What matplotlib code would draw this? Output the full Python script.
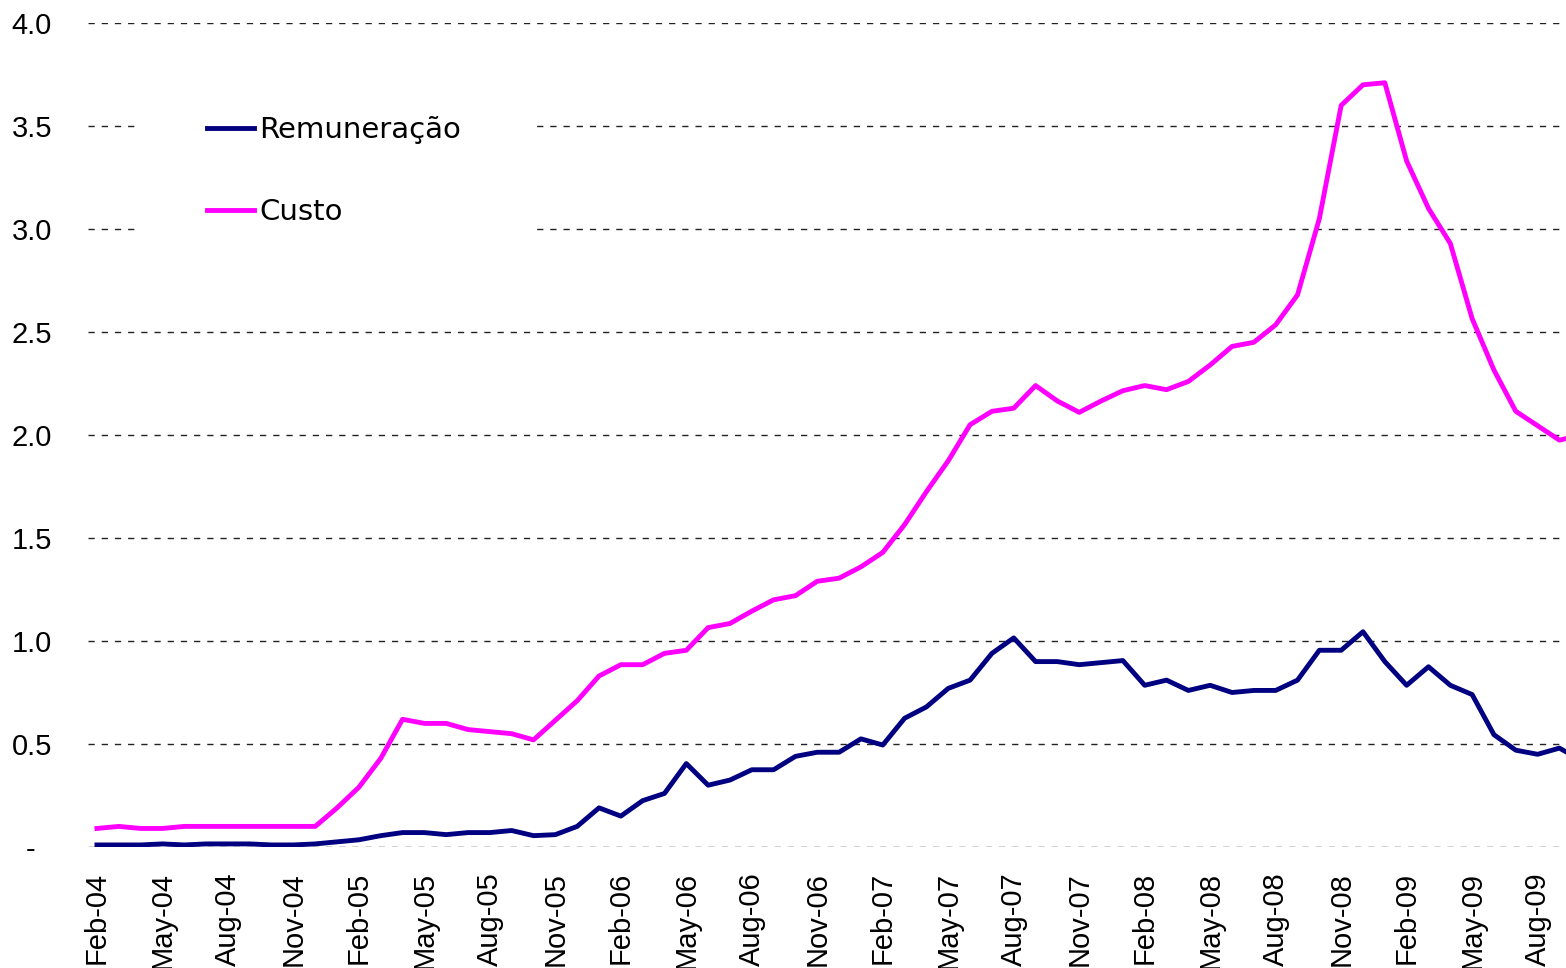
import matplotlib
matplotlib.use('Agg')
import matplotlib.pyplot as plt
from matplotlib.patches import Rectangle

# monthly series, Feb-04 .. Oct-09
remuneracao = [
    0.01, 0.01, 0.01, 0.015, 0.01, 0.015, 0.015, 0.015, 0.01, 0.01,
    0.015, 0.025, 0.035, 0.055, 0.07, 0.07, 0.06, 0.07, 0.07, 0.08,
    0.055, 0.06, 0.10, 0.19, 0.15, 0.225, 0.26, 0.405, 0.30, 0.325,
    0.375, 0.375, 0.44, 0.46, 0.46, 0.525, 0.495, 0.625, 0.68, 0.77,
    0.81, 0.94, 1.015, 0.90, 0.90, 0.885, 0.895, 0.905, 0.785, 0.81,
    0.76, 0.785, 0.75, 0.76, 0.76, 0.81, 0.955, 0.955, 1.045, 0.90,
    0.785, 0.875, 0.785, 0.74, 0.545, 0.47, 0.45, 0.48, 0.42,
]
custo = [
    0.09, 0.10, 0.09, 0.09, 0.10, 0.10, 0.10, 0.10, 0.10, 0.10,
    0.10, 0.19, 0.29, 0.43, 0.62, 0.60, 0.60, 0.57, 0.56, 0.55,
    0.52, 0.615, 0.71, 0.83, 0.885, 0.885, 0.94, 0.955, 1.065, 1.085,
    1.145, 1.20, 1.22, 1.29, 1.305, 1.36, 1.43, 1.565, 1.725, 1.875,
    2.05, 2.115, 2.13, 2.24, 2.165, 2.11, 2.165, 2.215, 2.24, 2.22,
    2.26, 2.34, 2.43, 2.45, 2.535, 2.68, 3.05, 3.60, 3.70, 3.71,
    3.33, 3.10, 2.93, 2.565, 2.315, 2.115, 2.045, 1.975, 2.00,
]
tick_labels = [
    'Feb-04', 'May-04', 'Aug-04', 'Nov-04', 'Feb-05', 'May-05', 'Aug-05',
    'Nov-05', 'Feb-06', 'May-06', 'Aug-06', 'Nov-06', 'Feb-07', 'May-07',
    'Aug-07', 'Nov-07', 'Feb-08', 'May-08', 'Aug-08', 'Nov-08', 'Feb-09',
    'May-09', 'Aug-09',
]
y_ticks = [0, 0.5, 1.0, 1.5, 2.0, 2.5, 3.0, 3.5, 4.0]

W, H = 1566, 968
fig = plt.figure(figsize=(W / 100, H / 100), dpi=100)
ax = fig.add_axes([88 / W, (H - 847) / H, (W - 88) / W, (847 - 23) / H])

months = list(range(len(custo)))
ax.plot(months, remuneracao, color='#000080', lw=3.5, label='Remuneração', zorder=3)
ax.plot(months, custo, color='#FF00FF', lw=3.5, label='Custo', zorder=3)

ax.set_xlim(-0.41, 67.3)
ax.set_ylim(0, 4.0)

for s in ax.spines.values():
    s.set_visible(False)

ax.set_yticks(y_ticks)
ax.set_yticklabels(['-  ' if v == 0 else f'{v:.1f}' for v in y_ticks],
                   fontsize=21, family='Liberation Sans')
ax.set_xticks(months[::3])
ax.set_xticklabels(tick_labels, rotation=90, fontsize=21, family='Liberation Sans')
ax.tick_params(axis='y', length=0, pad=26)
ax.tick_params(axis='x', length=0, pad=18)

ax.grid(axis='y', color='#222222', lw=1.0, linestyle=(0, (4.5, 5)))
ax.set_axisbelow(True)

# white box behind legend hides the gridlines
ax.add_patch(Rectangle((47 / 1478, 2.75 / 4), (532 - 135) / 1478, 1.0 / 4,
                       transform=ax.transAxes, facecolor='white',
                       edgecolor='none', zorder=2))

leg = ax.legend(loc='upper left', bbox_to_anchor=((207 - 88) / 1478, (847 - 116) / 824),
                frameon=False, borderaxespad=0, borderpad=0, handlelength=1.6,
                handletextpad=0.2, labelspacing=1.85,
                prop={'family': 'DejaVu Sans', 'size': 21})
leg.set_zorder(4)

fig.savefig('out.png', dpi=100)
